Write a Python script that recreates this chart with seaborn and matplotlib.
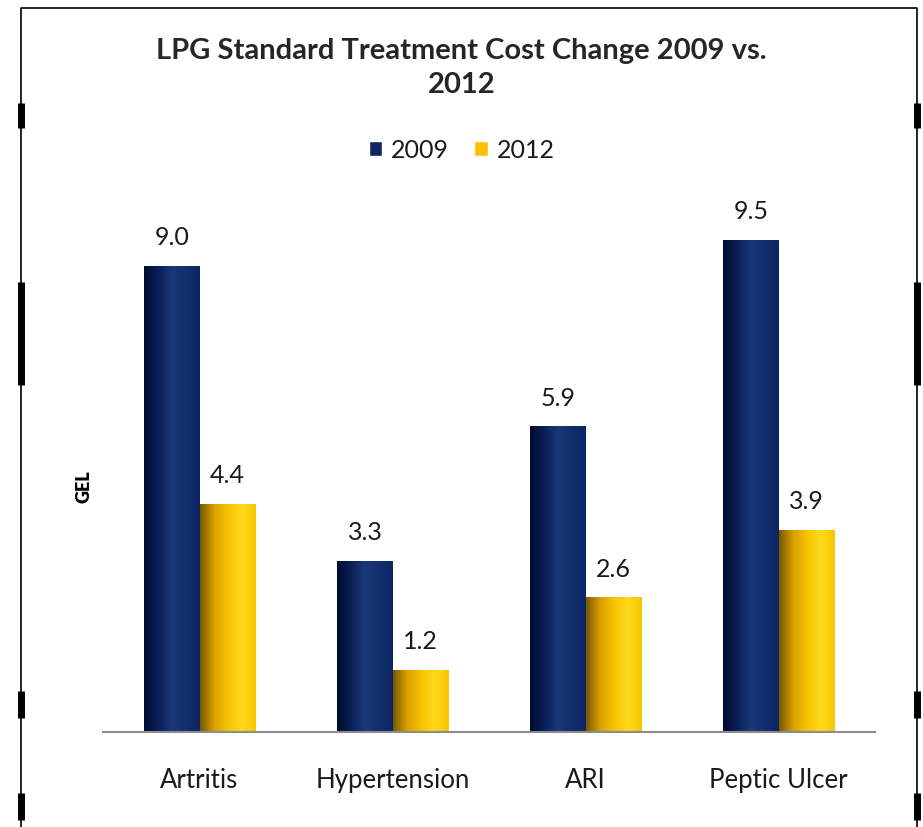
import numpy as np
import pandas as pd
import matplotlib
matplotlib.use("Agg")
import matplotlib.pyplot as plt
from matplotlib.colors import LinearSegmentedColormap
from matplotlib.lines import Line2D
import seaborn as sns

# data
categories = ['Artritis', 'Hypertension', 'ARI', 'Peptic Ulcer']
years = ['2009', '2012']
cost_2009 = [9.0, 3.3, 5.9, 9.5]
cost_2012 = [4.4, 1.2, 2.6, 3.9]

NAVY = '#0d2563'
GOLD = '#ffc000'
TEXT = '#1a1a1a'

df = pd.DataFrame({
    'Disease': categories * 2,
    'Year': [years[0]] * len(categories) + [years[1]] * len(categories),
    'GEL': cost_2009 + cost_2012,
})

sns.set_style('white')
plt.rcParams['font.family'] = ['Lato', 'DejaVu Sans']

fig = plt.figure(figsize=(9.23, 8.27), dpi=100)
ax = fig.add_axes([103 / 923, 1 - 732 / 827, 772 / 923, 570 / 827])

sns.barplot(data=df, x='Disease', y='GEL', hue='Year', order=categories,
            hue_order=years, palette=[NAVY, GOLD], width=0.57, gap=0,
            saturation=1, errorbar=None, ax=ax)

# cylinder-like shading clipped to each bar
navy_cmap = LinearSegmentedColormap.from_list(
    'navy', ['#000c30', '#0a1f58', '#1a3878', '#132e6e', '#0c2564'])
gold_cmap = LinearSegmentedColormap.from_list(
    'gold', ['#7a5a00', '#d9a000', '#f5c400', '#ffda1c', '#f7c600'])
grad = np.linspace(0, 1, 64).reshape(1, -1)
for container, cmap in zip(ax.containers, [navy_cmap, gold_cmap]):
    for bar in container:
        x0, y0 = bar.get_x(), bar.get_y()
        w, h = bar.get_width(), bar.get_height()
        im = ax.imshow(grad, cmap=cmap, aspect='auto',
                       extent=[x0, x0 + w, y0, y0 + h], zorder=bar.get_zorder() + 0.1)
        im.set_clip_path(bar)
    ax.bar_label(container, fmt='%.1f', padding=12, fontsize=18,
                 fontweight='normal', color=TEXT)
ax.set_ylim(0, 11)
ax.set_xlim(-0.5, len(categories) - 0.5)

sns.despine(ax=ax, left=True)
ax.spines['bottom'].set_color('#8c8c8c')
ax.spines['bottom'].set_linewidth(1.5)
ax.set_yticks([])
ax.tick_params(axis='x', length=0, pad=26)
for lbl in ax.get_xticklabels():
    lbl.set_fontsize(18.5)
    lbl.set_fontweight('normal')
    lbl.set_color(TEXT)
ax.set_xlabel('')
ax.set_ylabel('GEL', fontsize=13, fontweight='heavy', color='black')
ax.yaxis.set_label_coords(-0.013, 0.43)

leg = ax.legend(loc='center', bbox_to_anchor=(0.5, 1 - 150 / 827),
                bbox_transform=fig.transFigure, ncol=2, frameon=False,
                fontsize=18, handlelength=0.55, handleheight=0.55,
                handletextpad=0.35, columnspacing=1.0)
for t in leg.get_texts():
    t.set_color(TEXT)

fig.text(0.5, 1 - 68 / 827, 'LPG Standard Treatment Cost Change 2009 vs.\n2012',
         ha='center', va='center', fontsize=21, fontweight='bold',
         linespacing=1.35)

# outer frame with selection handles
frame_x0, frame_x1 = 21 / 923, 917 / 923
frame_y1 = 1 - 8 / 827
fig.add_artist(Line2D([frame_x0, frame_x0, frame_x1, frame_x1],
                      [0, frame_y1, frame_y1, 0], color='black', lw=1.2))
for y_a, y_b in [(103, 128), (282, 385), (691, 718), (793, 820)]:
    for xx in (frame_x0, frame_x1):
        fig.add_artist(Line2D([xx, xx], [1 - y_a / 827, 1 - y_b / 827],
                              color='black', lw=5, solid_capstyle='butt'))

fig.savefig('out.png', dpi=100, facecolor='white')
